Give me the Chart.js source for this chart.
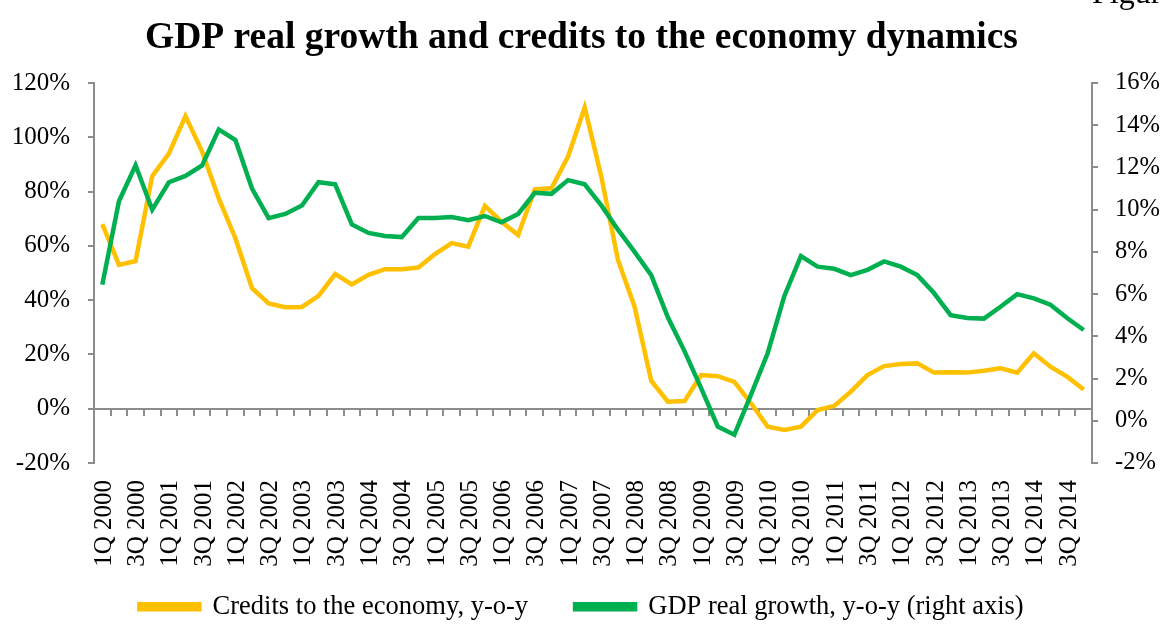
<!DOCTYPE html>
<html>
<head>
<meta charset="utf-8">
<script src="https://cdn.jsdelivr.net/npm/chart.js@4"></script>
<style>
  body { margin: 0; background: #fff; }
  #wrap { position: relative; width: 1163px; height: 625px; overflow: hidden; }
  #fig { position: absolute; left: 1092px; top: -24px; font: 32px/32px "Liberation Serif", "Times New Roman", serif; color: #000; white-space: nowrap; }
</style>
</head>
<body>
<div id="wrap">
  <canvas id="gdpChart" width="1163" height="625"></canvas>
  <div id="fig">Figure</div>
</div>
<script>
// quarters 1Q 2000 .. 4Q 2014
var categories = [
  '1Q 2000','2Q 2000','3Q 2000','4Q 2000','1Q 2001','2Q 2001','3Q 2001','4Q 2001',
  '1Q 2002','2Q 2002','3Q 2002','4Q 2002','1Q 2003','2Q 2003','3Q 2003','4Q 2003',
  '1Q 2004','2Q 2004','3Q 2004','4Q 2004','1Q 2005','2Q 2005','3Q 2005','4Q 2005',
  '1Q 2006','2Q 2006','3Q 2006','4Q 2006','1Q 2007','2Q 2007','3Q 2007','4Q 2007',
  '1Q 2008','2Q 2008','3Q 2008','4Q 2008','1Q 2009','2Q 2009','3Q 2009','4Q 2009',
  '1Q 2010','2Q 2010','3Q 2010','4Q 2010','1Q 2011','2Q 2011','3Q 2011','4Q 2011',
  '1Q 2012','2Q 2012','3Q 2012','4Q 2012','1Q 2013','2Q 2013','3Q 2013','4Q 2013',
  '1Q 2014','2Q 2014','3Q 2014','4Q 2014'
];

// credits to the economy, y-o-y, % (left axis)
var credits = [
  68, 53, 54.4, 85.7, 94, 107.8, 94.7, 77.5, 62.8, 44.4,
  38.8, 37.4, 37.5, 41.6, 49.6, 45.8, 49.3, 51.4, 51.4, 52,
  57, 61, 59.7, 74.7, 68.9, 64, 80.8, 81.2, 92.9, 111,
  85.5, 54.8, 37.6, 10.3, 2.6, 2.8, 12.4, 12, 9.9, 2,
  -6.6, -7.8, -6.6, -0.5, 1, 6.3, 12.4, 15.7, 16.5, 16.7,
  13.3, 13.4, 13.3, 14, 14.9, 13.3, 20.4, 15.5, 11.8, 7.1
];

// GDP real growth, y-o-y, % (right axis)
var gdp = [
  6.45, 10.4, 12.1, 10.0, 11.3, 11.6, 12.1, 13.8, 13.3, 11.0,
  9.6, 9.8, 10.2, 11.3, 11.2, 9.3, 8.9, 8.75, 8.7, 9.6,
  9.6, 9.65, 9.5, 9.7, 9.4, 9.8, 10.8, 10.75, 11.4, 11.2,
  10.2, 9.05, 8.0, 6.9, 4.9, 3.3, 1.55, -0.27, -0.66, 1.24,
  3.2, 5.9, 7.8, 7.3, 7.2, 6.9, 7.15, 7.55, 7.3, 6.9,
  6.05, 5.0, 4.87, 4.84, 5.4, 6.0, 5.8, 5.5, 4.87, 4.3
];

var leftTicks = { min: -20, max: 120, step: 20 };
var rightTicks = { min: -2, max: 16, step: 2 };

var axisGray = '#8c8c8c';
var plotBottom = 463; // where the -20% line sits
var padBottom = -5;
var xFontSize = 25;
Chart.defaults.font.family = '"Liberation Serif", "Times New Roman", serif';
Chart.defaults.font.size = 24;
Chart.defaults.color = '#000';

var ctx = document.getElementById('gdpChart').getContext('2d');

var gdpChart = new Chart(ctx, {
  type: 'line',
  data: {
    labels: categories,
    datasets: [{
      label: 'Credits to the economy, y-o-y',
      data: credits,
      yAxisID: 'y',
      borderColor: '#FFC000',
      backgroundColor: '#FFC000',
      borderWidth: 4.5,
      pointRadius: 0,
      tension: 0
    }, {
      label: 'GDP real growth, y-o-y (right axis)',
      data: gdp,
      yAxisID: 'y1',
      order: -1,
      borderColor: '#00B050',
      backgroundColor: '#00B050',
      borderWidth: 4.5,
      pointRadius: 0,
      tension: 0
    }]
  },
  options: {
    responsive: false,
    animation: false,
    layout: { padding: { left: 0, right: 0, top: 0, bottom: padBottom } },
    scales: {
      x: {
        position: 'bottom',
        offset: true,
        border: { display: false },
        grid: { display: false, drawTicks: false },
        ticks: {
          autoSkip: false,
          maxRotation: 90,
          minRotation: 90,
          font: { size: xFontSize },
          // mirror + negative padding keeps labels below the axis but unclipped,
          // labelOffset undoes the line-height shift mirror adds
          mirror: true,
          padding: -17,
          labelOffset: xFontSize * 1.2 + 2,
          callback: function(value, index) {
            return index % 2 === 0 ? categories[index] : '';
          }
        },
        afterFit: function(scale) {
          scale.height = scale.chart.height - padBottom - scale.chart.legend.height - plotBottom;
        }
      },
      // zero line with the category tick marks
      xZero: {
        type: 'category',
        position: { y: 0 },
        offset: true,
        border: { display: true, color: axisGray, width: 2 },
        grid: { offset: true, drawOnChartArea: false, drawTicks: true, tickLength: 6, color: axisGray, lineWidth: 2 },
        ticks: { display: false }
      },
      y: {
        position: 'left',
        min: leftTicks.min,
        max: leftTicks.max,
        border: { color: axisGray, width: 2 },
        grid: { drawOnChartArea: false, tickLength: 6, color: axisGray, lineWidth: 2 },
        ticks: {
          stepSize: leftTicks.step,
          padding: 18,
          font: { size: 25 },
          callback: function(v) { return v + '%'; }
        },
        afterFit: function(scale) { scale.width = 94; }
      },
      y1: {
        position: 'right',
        min: rightTicks.min,
        max: rightTicks.max,
        border: { color: axisGray, width: 2 },
        grid: { drawOnChartArea: false, tickLength: 6, color: axisGray, lineWidth: 2 },
        ticks: {
          stepSize: rightTicks.step,
          padding: 17,
          font: { size: 24.5 },
          callback: function(v) { return v + '%'; }
        },
        afterFit: function(scale) { scale.width = 71; }
      }
    },
    plugins: {
      title: {
        display: true,
        text: 'GDP real growth and credits to the economy dynamics',
        font: { size: 37.5, weight: 'bold' },
        padding: { top: 16, bottom: 22 }
      },
      legend: {
        position: 'bottom',
        labels: {
          boxWidth: 60,
          boxHeight: 5,
          padding: 47,
          font: { size: 26.5 },
          sort: function(a, b) { return a.datasetIndex - b.datasetIndex; }
        }
      },
      tooltip: { enabled: false }
    }
  }
});
</script>
</body>
</html>
